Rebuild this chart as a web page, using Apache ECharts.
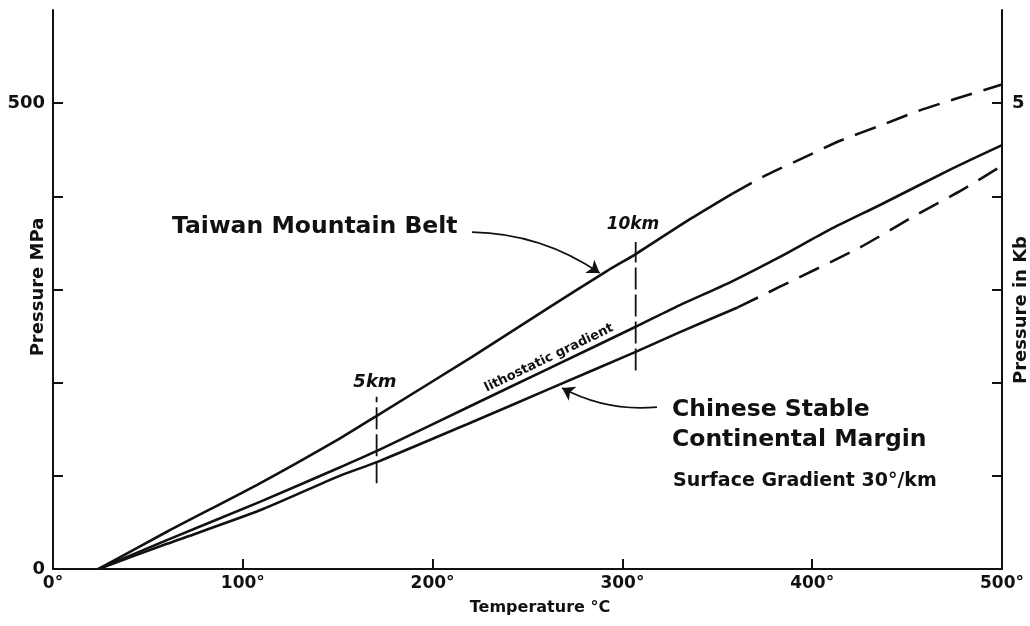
<!DOCTYPE html>
<html><head><meta charset="utf-8">
<script src="https://cdn.jsdelivr.net/npm/echarts@6/dist/echarts.min.js"></script>
<style>html,body{margin:0;padding:0;background:#fff}#c{width:1030px;height:626px}</style>
</head><body><div id="c"></div>
<script>
// ---- data (temperature °C, pressure MPa) ----
const taiwanSolidT = [24, 60, 109, 151, 171, 221, 260, 292, 307, 336, 358];
const taiwanSolidP = [0, 40, 92, 140, 165, 228, 279, 320, 338, 376, 403];
const taiwanDashT  = [358, 376, 395, 415, 436, 455, 476, 500];
const taiwanDashP  = [403, 423, 441, 460, 476, 491, 505, 520];

const lithoT = [24, 60, 109, 151, 171, 220, 260, 307, 330, 357, 383, 409, 436, 474, 500];
const lithoP = [0, 31, 72, 109, 127, 175, 214, 260, 283, 308, 335, 364, 391, 430, 455];

const chineseSolidT = [24, 60, 109, 151, 171, 220, 260, 307, 330, 361];
const chineseSolidP = [0, 27, 63, 100, 115, 157, 192, 233, 254, 281];
const chineseDashT  = [361, 383, 425, 453, 479, 500];
const chineseDashP  = [281, 303, 345, 378, 407, 433];

const depth5kmT = [170.5, 170.5];   const depth5kmP = [92, 185];
const depth10kmT = [307, 307];      const depth10kmP = [213, 351];

const taiwanArrow  = [[220.8, 361.6], [288, 317.6]];
const chineseArrow = [[318.2, 173.8], [268.2, 194.2]];

const xTickValues = [0, 100, 200, 300, 400, 500];
const leftLabelValues = [0, 500];
const rightLabelValues = [5];

const zip = (a, b) => a.map((v, i) => [v, b[i]]);

const chart = echarts.init(document.getElementById('c'), null, {renderer: 'canvas'});
const FONT = '"DejaVu Sans", sans-serif';
const INK = '#111';

const lineBase = {type: 'line', showSymbol: false, symbol: 'none', smooth: 0.25, silent: true,
  lineStyle: {color: INK, width: 2.6}};

chart.setOption({
  animation: false,
  backgroundColor: '#fff',
  grid: {left: 53, right: 28, top: 10, bottom: 57},
  xAxis: {
    type: 'value', min: 0, max: 500, interval: 100,
    axisLine: {show: true, lineStyle: {color: INK, width: 2}},
    axisTick: {show: true, inside: true, length: 10, lineStyle: {color: INK, width: 2}},
    axisLabel: {color: INK, fontFamily: FONT, fontWeight: 'bold', fontSize: 17, margin: 6,
      formatter: v => xTickValues.includes(v) ? v + '°' : ''},
    splitLine: {show: false}
  },
  yAxis: [{
    type: 'value', min: 0, max: 600, interval: 100, position: 'left',
    axisLine: {show: true, onZero: false, lineStyle: {color: INK, width: 2}},
    axisTick: {show: true, inside: true, length: 10, lineStyle: {color: INK, width: 2},
      customValues: [100, 200, 300, 400, 500]},
    axisLabel: {color: INK, fontFamily: FONT, fontWeight: 'bold', fontSize: 18, margin: 8,
      formatter: v => leftLabelValues.includes(v) ? String(v) : ''},
    splitLine: {show: false}
  }, {
    type: 'value', min: 0, max: 6, interval: 1, position: 'right',
    axisLine: {show: true, onZero: false, lineStyle: {color: INK, width: 2}},
    axisTick: {show: true, inside: true, length: 10, lineStyle: {color: INK, width: 2},
      customValues: [1, 2, 3, 4, 5]},
    axisLabel: {color: INK, fontFamily: FONT, fontWeight: 'bold', fontSize: 18, margin: 10,
      formatter: v => rightLabelValues.includes(v) ? String(v) : ''},
    splitLine: {show: false}
  }],
  series: [
    Object.assign({}, lineBase, {name: 'Taiwan', data: zip(taiwanSolidT, taiwanSolidP)}),
    Object.assign({}, lineBase, {name: 'Taiwan dashed', data: zip(taiwanDashT, taiwanDashP),
      lineStyle: {color: INK, width: 2.6, type: [22, 12]}}),
    Object.assign({}, lineBase, {name: 'Lithostatic', data: zip(lithoT, lithoP)}),
    Object.assign({}, lineBase, {name: 'Chinese', data: zip(chineseSolidT, chineseSolidP)}),
    Object.assign({}, lineBase, {name: 'Chinese dashed', data: zip(chineseDashT, chineseDashP),
      lineStyle: {color: INK, width: 2.6, type: [22, 12]}}),
    {type: 'line', showSymbol: false, symbol: 'none', silent: true, data: zip(depth5kmT, depth5kmP),
      lineStyle: {color: INK, width: 1.8, type: [22, 5]}},
    {type: 'line', showSymbol: false, symbol: 'none', silent: true, data: zip(depth10kmT, depth10kmP),
      lineStyle: {color: INK, width: 1.8, type: [22, 5]}},
    {type: 'lines', coordinateSystem: 'cartesian2d', silent: true, symbol: ['none', 'arrow'], symbolSize: [6, 12],
      lineStyle: {color: INK, width: 1.8, curveness: 0.15, opacity: 1},
      data: [{coords: taiwanArrow}]},
    {type: 'lines', coordinateSystem: 'cartesian2d', silent: true, symbol: ['none', 'arrow'], symbolSize: [6, 12],
      lineStyle: {color: INK, width: 1.8, curveness: 0.15, opacity: 1},
      data: [{coords: chineseArrow}]}
  ],
  graphic: [
    {type: 'text', x: 172, y: 227, style: {text: 'Taiwan Mountain Belt', fill: INK,
      font: 'bold 23.5px ' + FONT, textVerticalAlign: 'middle', verticalAlign: 'middle'}},
    {type: 'text', x: 672, y: 410, style: {text: 'Chinese Stable', fill: INK,
      font: 'bold 23.5px ' + FONT, verticalAlign: 'middle'}},
    {type: 'text', x: 672, y: 440, style: {text: 'Continental Margin', fill: INK,
      font: 'bold 23.5px ' + FONT, verticalAlign: 'middle'}},
    {type: 'text', x: 673, y: 481, style: {text: 'Surface Gradient 30°/km', fill: INK,
      font: 'bold 19px ' + FONT, verticalAlign: 'middle'}},
    {type: 'text', x: 375, y: 382, style: {text: '5km', fill: INK,
      font: 'italic bold 18px ' + FONT, align: 'center', verticalAlign: 'middle'}},
    {type: 'text', x: 633, y: 225, style: {text: '10km', fill: INK,
      font: 'italic bold 17px ' + FONT, align: 'center', verticalAlign: 'middle'}},
    {type: 'text', x: 549, y: 358, rotation: 0.449, style: {text: 'lithostatic gradient', fill: INK,
      font: 'bold 13px ' + FONT, align: 'center', verticalAlign: 'middle'}},
    {type: 'text', x: 38, y: 287, rotation: Math.PI / 2, style: {text: 'Pressure MPa', fill: INK,
      font: 'bold 18px ' + FONT, align: 'center', verticalAlign: 'middle'}},
    {type: 'text', x: 1021, y: 310, rotation: Math.PI / 2, style: {text: 'Pressure in Kb', fill: INK,
      font: 'bold 18px ' + FONT, align: 'center', verticalAlign: 'middle'}},
    {type: 'text', x: 540, y: 608, style: {text: 'Temperature °C', fill: INK,
      font: 'bold 16px ' + FONT, align: 'center', verticalAlign: 'middle'}}
  ]
});
</script></body></html>
